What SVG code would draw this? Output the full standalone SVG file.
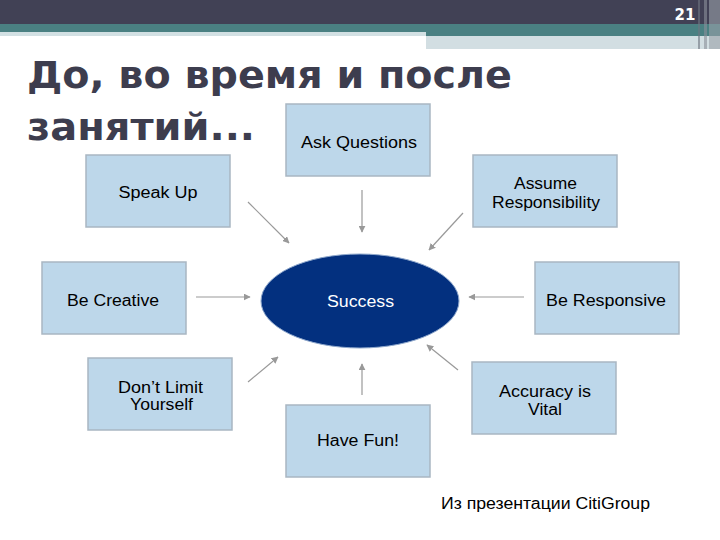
<svg xmlns="http://www.w3.org/2000/svg" width="720" height="540" viewBox="0 0 720 540">
<defs>
<style>
.box{fill:#bdd7ea;stroke:#a9b6c2;stroke-width:1.5}
.lbl{font-family:"Liberation Sans",Arial,sans-serif;font-size:16px;fill:#000;text-anchor:middle}
.con{stroke:#999;stroke-width:1.2;fill:none;marker-end:url(#ah)}
.title{font-family:"DejaVu Sans",Verdana,sans-serif;font-weight:bold;font-size:37px;fill:#3d3d4e}
</style>
<marker id="ah" viewBox="0 0 10 10" refX="9" refY="5" markerWidth="7" markerHeight="7" markerUnits="userSpaceOnUse" orient="auto">
<path d="M0,0 L10,5 L0,10 z" fill="#999"/>
</marker>
</defs>
<rect width="720" height="540" fill="#fff"/>
<g id="header">
<rect x="0" y="0" width="720" height="24" fill="#414155"/>
<rect x="0" y="24" width="720" height="8" fill="#4a8082"/>
<rect x="0" y="32" width="426" height="4" fill="#d2e0e3"/>
<rect x="426" y="32" width="294" height="4" fill="#4a8082"/>
<rect x="426" y="36" width="294" height="13" fill="#d2dee2"/>
<rect x="698" y="0" width="2" height="49" fill="#6e7480" opacity="0.6"/>
<rect x="704" y="0" width="3" height="49" fill="#8a8f9a" opacity="0.6"/>
<rect x="709" y="0" width="11" height="49" fill="#9aa0a8" opacity="0.6"/>
<text x="685" y="20" font-family="DejaVu Sans,Verdana,sans-serif" font-weight="bold" font-size="15" fill="#fff" text-anchor="middle">21</text>
</g>
<g id="title">
<text class="title" x="27" y="88" textLength="485" lengthAdjust="spacingAndGlyphs">До, во время и после</text>
<text class="title" x="27" y="140" textLength="228" lengthAdjust="spacingAndGlyphs">занятий...</text>
</g>
<g id="connectors">
<line class="con" x1="248" y1="202" x2="289" y2="243"/>
<line class="con" x1="362" y1="190" x2="362" y2="232"/>
<line class="con" x1="463" y1="213" x2="429" y2="250"/>
<line class="con" x1="196" y1="297" x2="250" y2="297"/>
<line class="con" x1="524" y1="297" x2="469" y2="297"/>
<line class="con" x1="248" y1="382" x2="278" y2="357"/>
<line class="con" x1="362" y1="395" x2="362" y2="364"/>
<line class="con" x1="458" y1="370" x2="427" y2="345"/>
</g>
<g id="success">
<ellipse cx="360" cy="301" rx="99" ry="47" fill="#03307f" stroke="#8fa8cc" stroke-width="1"/>
<text class="lbl" x="360.5" y="307" style="fill:#fff" textLength="67" lengthAdjust="spacingAndGlyphs">Success</text>
</g>
<g id="ask">
<rect class="box" x="286" y="104" width="144" height="72"/>
<text class="lbl" x="359" y="148" textLength="116" lengthAdjust="spacingAndGlyphs">Ask Questions</text>
</g>
<g id="speak">
<rect class="box" x="86" y="155" width="144" height="72"/>
<text class="lbl" x="158" y="198" textLength="79" lengthAdjust="spacingAndGlyphs">Speak Up</text>
</g>
<g id="assume">
<rect class="box" x="473" y="155" width="144" height="72"/>
<text class="lbl" x="545.5" y="189" textLength="63" lengthAdjust="spacingAndGlyphs">Assume</text>
<text class="lbl" x="546" y="208" textLength="108" lengthAdjust="spacingAndGlyphs">Responsibility</text>
</g>
<g id="creative">
<rect class="box" x="42" y="262" width="144" height="72"/>
<text class="lbl" x="113" y="306" textLength="92" lengthAdjust="spacingAndGlyphs">Be Creative</text>
</g>
<g id="responsive">
<rect class="box" x="535" y="262" width="144" height="72"/>
<text class="lbl" x="606" y="306" textLength="120" lengthAdjust="spacingAndGlyphs">Be Responsive</text>
</g>
<g id="limit">
<rect class="box" x="88" y="358" width="144" height="72"/>
<text class="lbl" x="160.5" y="393" textLength="85" lengthAdjust="spacingAndGlyphs">Don’t Limit</text>
<text class="lbl" x="161.5" y="410" textLength="63" lengthAdjust="spacingAndGlyphs">Yourself</text>
</g>
<g id="fun">
<rect class="box" x="286" y="405" width="144" height="72"/>
<text class="lbl" x="358" y="446" textLength="82" lengthAdjust="spacingAndGlyphs">Have Fun!</text>
</g>
<g id="accuracy">
<rect class="box" x="472" y="362" width="144" height="72"/>
<text class="lbl" x="545" y="397" textLength="92" lengthAdjust="spacingAndGlyphs">Accuracy is</text>
<text class="lbl" x="545" y="415" textLength="34" lengthAdjust="spacingAndGlyphs">Vital</text>
</g>
<text x="441" y="509" font-family="Liberation Sans,Arial,sans-serif" font-size="16" fill="#000" textLength="209" lengthAdjust="spacingAndGlyphs">Из презентации CitiGroup</text>
</svg>
